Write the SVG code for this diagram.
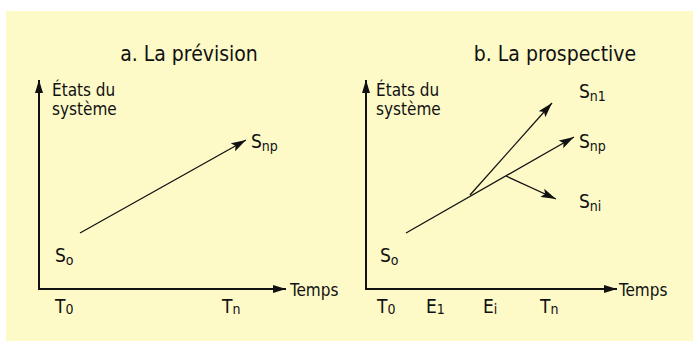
<svg xmlns="http://www.w3.org/2000/svg" width="693" height="341" viewBox="0 0 693 341">
<style>
text{font-family:"Liberation Sans Narrow","DejaVu Sans Condensed","Liberation Sans",sans-serif;fill:#111}
.title{font-size:21px;text-anchor:middle}
.ax{font-size:17px}
.lbl{font-size:19px}
.sub{font-size:14px}
.axis{stroke:#111;stroke-width:2;fill:none}
.ln{stroke:#111;stroke-width:1.3;fill:none}
</style>
<defs>
<marker id="ah" markerUnits="userSpaceOnUse" markerWidth="16" markerHeight="10" refX="15" refY="5" orient="auto">
<path d="M0,0.5 L15,5 L0,9.5 L3,5 Z" fill="#111"/>
</marker>
<marker id="axh" markerUnits="userSpaceOnUse" markerWidth="14" markerHeight="10" refX="13" refY="4.5" orient="auto">
<path d="M0,0.5 L13,4.5 L0,8.5 Z" fill="#111"/>
</marker>
</defs>
<rect x="6" y="11" width="687" height="330" fill="#fdfac8"/>

<g id="axes">
<path class="axis" d="M39,289 V80" marker-end="url(#axh)"/>
<path class="axis" d="M38,289 H286" marker-end="url(#axh)"/>
<path class="axis" d="M366,289 V80" marker-end="url(#axh)"/>
<path class="axis" d="M365,289 H617" marker-end="url(#axh)"/>
</g>

<g id="connectors">
<line class="ln" x1="80" y1="233" x2="246" y2="140" marker-end="url(#ah)"/>
<line class="ln" x1="406" y1="233" x2="574" y2="137" marker-end="url(#ah)"/>
<line class="ln" x1="470" y1="195" x2="552" y2="103" marker-end="url(#ah)"/>
<line class="ln" x1="506" y1="176" x2="556" y2="199" marker-end="url(#ah)"/>
</g>

<g id="panel-a">
<text class="title" x="189" y="61">a. La prévision</text>
<g id="a-yaxis-label"><text class="ax" x="52" y="96">États du</text><text class="ax" x="52" y="115">système</text></g>
<text class="ax" x="290" y="296">Temps</text>
<g id="a-S0"><text class="lbl" x="55" y="262">S<tspan class="sub" dy="3">o</tspan></text></g>
<g id="a-Snp"><text class="lbl" x="251" y="148">S<tspan class="sub" dy="3">np</tspan></text></g>
<text class="lbl" x="55" y="313">T<tspan class="sub" dy="1">0</tspan></text>
<text class="lbl" x="222" y="313">T<tspan class="sub" dy="1">n</tspan></text>
</g>

<g id="panel-b">
<text class="title" x="555" y="61">b. La prospective</text>
<g id="b-yaxis-label"><text class="ax" x="376" y="96">États du</text><text class="ax" x="376" y="115">système</text></g>
<text class="ax" x="619" y="296">Temps</text>
<g id="b-S0"><text class="lbl" x="380" y="262">S<tspan class="sub" dy="3">o</tspan></text></g>
<g id="b-Sn1"><text class="lbl" x="579" y="98">S<tspan class="sub" dy="3">n1</tspan></text></g>
<g id="b-Snp"><text class="lbl" x="579" y="148">S<tspan class="sub" dy="3">np</tspan></text></g>
<g id="b-Sni"><text class="lbl" x="579" y="208">S<tspan class="sub" dy="3">ni</tspan></text></g>
<text class="lbl" x="377" y="313">T<tspan class="sub" dy="1">0</tspan></text>
<text class="lbl" x="426" y="313">E<tspan class="sub" dy="1">1</tspan></text>
<text class="lbl" x="483" y="313">E<tspan class="sub" dy="1">i</tspan></text>
<text class="lbl" x="540" y="313">T<tspan class="sub" dy="1">n</tspan></text>
</g>
</svg>
